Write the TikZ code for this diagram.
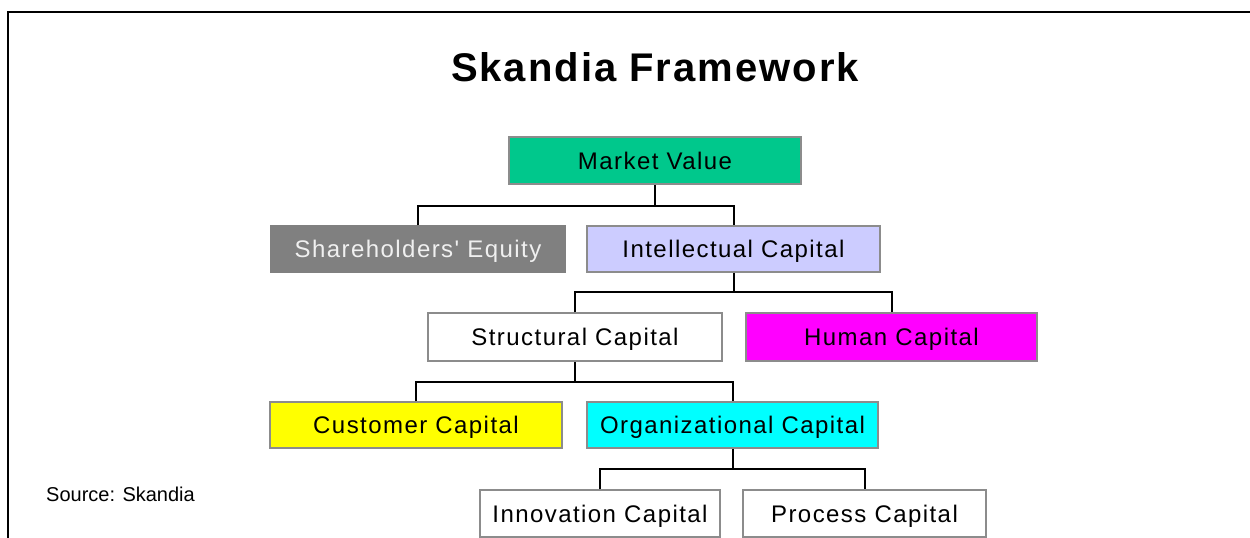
\documentclass[tikz,border=0pt]{standalone}
\usepackage{fontspec}
\setmainfont{Liberation Sans}
\newfontfamily\boxfont[LetterSpace=6]{Liberation Sans}
\newfontfamily\titlefont[LetterSpace=5]{Liberation Sans}
\definecolor{mvgreen}{RGB}{0,200,140}
\definecolor{segrey}{RGB}{128,128,128}
\definecolor{iclav}{RGB}{204,204,255}
\definecolor{hcmag}{RGB}{255,0,255}
\definecolor{ccyel}{RGB}{255,255,0}
\definecolor{occyan}{RGB}{0,255,255}
\definecolor{boxborder}{RGB}{140,140,140}
\definecolor{setext}{RGB}{240,240,240}
\begin{document}
\begin{tikzpicture}[x=1pt,y=-1pt,
  box/.style={draw=boxborder, line width=1.5pt, inner sep=0pt,
    minimum height=46pt, text height=17.2pt, text depth=0pt,
    font=\boxfont\fontsize{24}{28}\selectfont},
  conn/.style={draw=black, line width=2pt},
  frame/.style={draw=black, line width=2.2pt}]
\useasboundingbox[fill=white] (0,0) rectangle (1250,538);
% frame
\draw[frame] (8,540) -- (8,12) -- (1252,12);
% title
\node[anchor=base, inner sep=0pt, font=\titlefont\bfseries\fontsize{40}{46}\selectfont] (title) at (655,81) {Skandia Framework};
% boxes
\node[box, fill=mvgreen, minimum width=292pt, minimum height=47pt] (mv) at (655,160.5) {Market Value};
\node[box, fill=segrey, draw=segrey, text=setext, minimum width=294pt] (se) at (418,249) {Shareholders' Equity};
\node[box, fill=iclav, minimum width=293pt] (ic) at (733.5,249) {Intellectual Capital};
\node[box, fill=white, minimum width=294pt, minimum height=48pt] (sc) at (575,337) {Structural Capital};
\node[box, fill=hcmag, minimum width=291pt, minimum height=48pt] (hc) at (891.5,337) {Human Capital};
\node[box, fill=ccyel, minimum width=292pt] (cc) at (416,425) {Customer Capital};
\node[box, fill=occyan, minimum width=291pt] (oc) at (732.5,425) {Organizational Capital};
\node[box, fill=white, minimum width=240pt, minimum height=47pt] (inn) at (600,513.5) {Innovation Capital};
\node[box, fill=white, minimum width=243pt, minimum height=47pt] (pc) at (864.5,513.5) {Process Capital};
% junctions
\coordinate (j1) at (655,206);
\coordinate (j2) at (733.5,292);
\coordinate (j3) at (575,381.5);
\coordinate (j4) at (732.5,469);
% connectors
\draw[conn] (mv.south) -- (j1);
\draw[conn] (se.north) |- (j1) -| (ic.north);
\draw[conn] (ic.south) -- (j2);
\draw[conn] (sc.north) |- (j2) -| (hc.north);
\draw[conn] (sc.south) -- (j3);
\draw[conn] (cc.north) |- (j3) -| (oc.north);
\draw[conn] (oc.south) -- (j4);
\draw[conn] (inn.north) |- (j4) -| (pc.north);
% source
\node[anchor=base west, inner sep=0pt, font=\fontsize{20}{24}\selectfont] (src) at (46,501.7) {Source: Skandia};
\end{tikzpicture}
\end{document}
